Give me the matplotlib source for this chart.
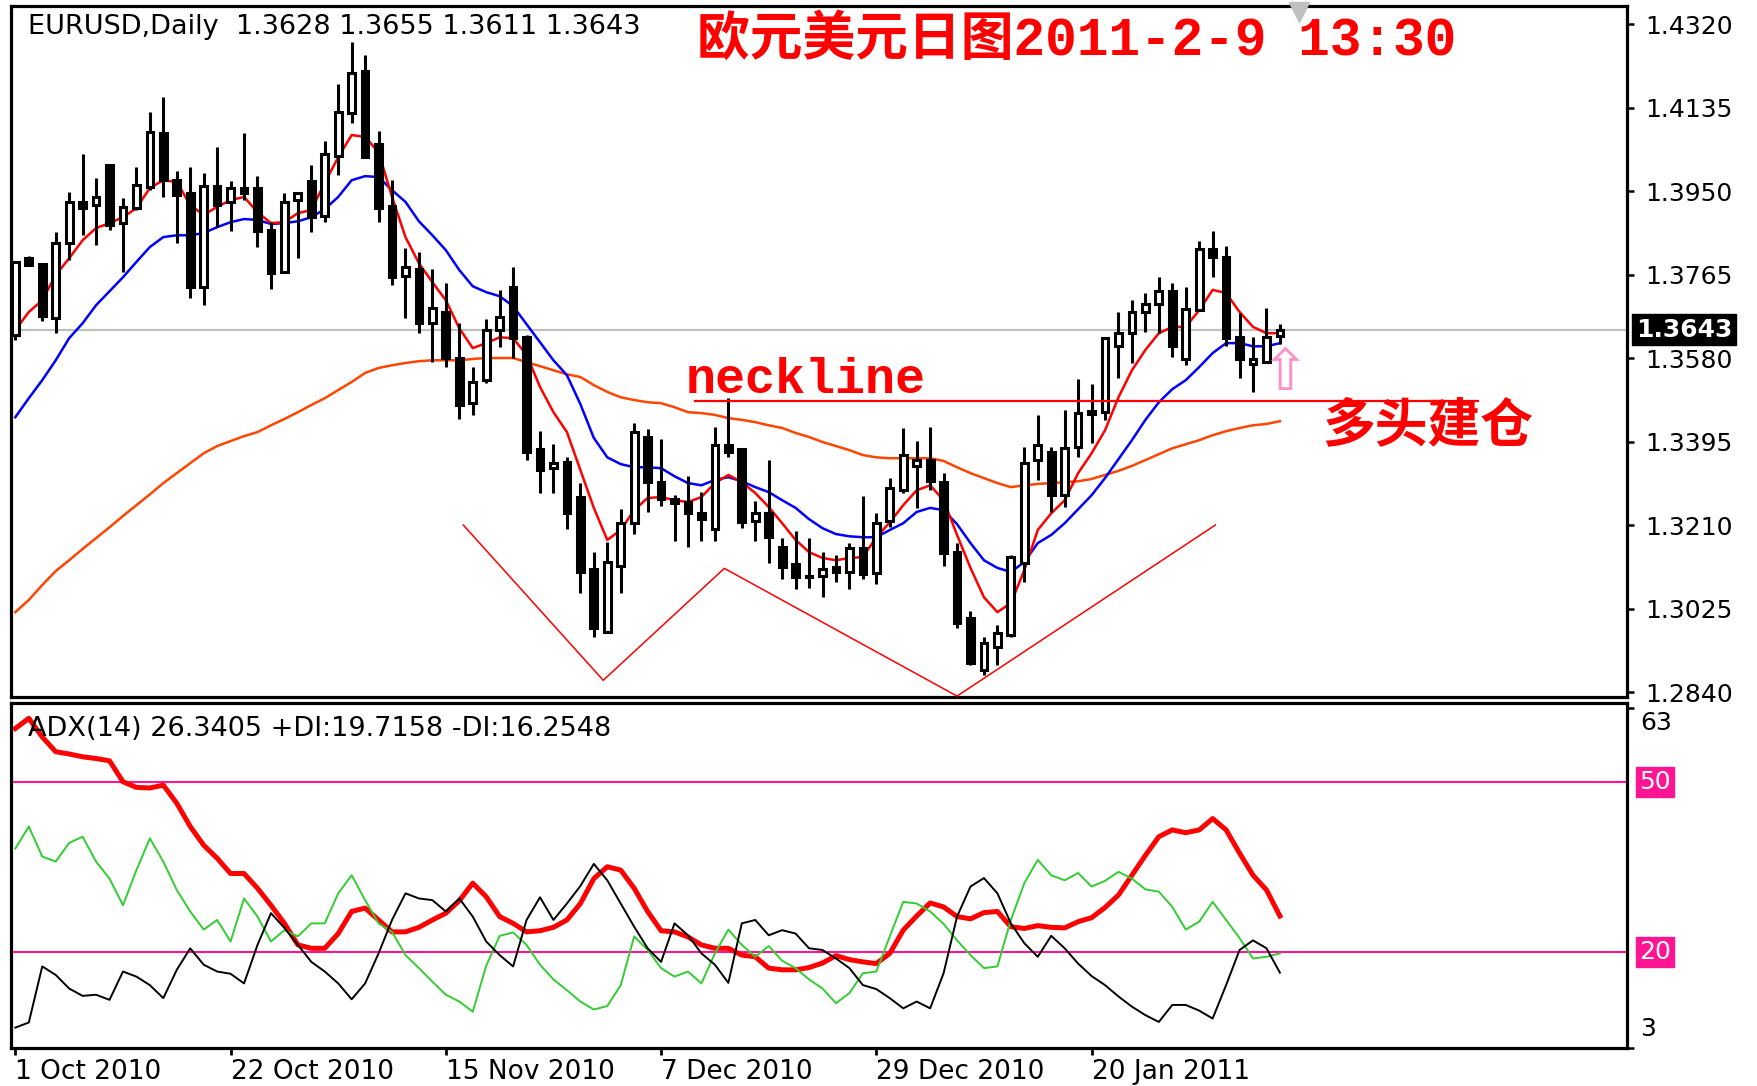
import matplotlib
matplotlib.use('Agg')
import matplotlib.pyplot as plt
import matplotlib.transforms as mtrans
import numpy as np

# ---------------- data ----------------
opens = [1.3631,1.3801,1.3788,1.3668,1.3835,1.3925,1.3919,1.4007,1.3879,1.3912,
         1.3959,1.4078,1.3974,1.3945,1.3737,1.3961,1.3925,1.3956,1.3956,1.3863,
         1.3770,1.3930,1.3972,1.3894,1.4027,1.4123,1.4216,1.4054,1.3917,1.3761,
         1.3777,1.3657,1.3682,1.3580,1.3480,1.3531,1.3642,1.3737,1.3626,1.3378,
         1.3336,1.3349,1.3272,1.3112,1.2973,1.3119,1.3214,1.3405,1.3305,1.3267,
         1.3261,1.3236,1.3201,1.3387,1.3378,1.3218,1.3236,1.3161,1.3123,1.3097,
         1.3097,1.3117,1.3105,1.3159,1.3103,1.3218,1.3287,1.3340,1.3354,1.3305,
         1.3150,1.3004,1.2888,1.2940,1.2966,1.3125,1.3354,1.3371,1.3276,1.3382,
         1.3462,1.3460,1.3606,1.3635,1.3682,1.3699,1.3728,1.3578,1.3686,1.3821,
         1.3804,1.3626,1.3566,1.3571,1.3628]
highs = [1.3792,1.3806,1.3790,1.3859,1.3948,1.4032,1.3979,1.4010,1.3934,1.4003,
         1.4125,1.4158,1.3994,1.4003,1.3990,1.4047,1.3972,1.4078,1.3983,1.3881,
         1.3945,1.3948,1.4007,1.4061,1.4187,1.4280,1.4251,1.4083,1.3974,1.3823,
         1.3815,1.3777,1.3746,1.3657,1.3560,1.3666,1.3730,1.3781,1.3630,1.3418,
         1.3389,1.3360,1.3303,1.3150,1.3172,1.3245,1.3436,1.3422,1.3400,1.3276,
         1.3318,1.3283,1.3427,1.3491,1.3380,1.3263,1.3354,1.3181,1.3196,1.3181,
         1.3150,1.3143,1.3170,1.3274,1.3236,1.3314,1.3425,1.3396,1.3427,1.3325,
         1.3170,1.3019,1.2961,1.2988,1.3143,1.3382,1.3453,1.3382,1.3464,1.3533,
         1.3522,1.3626,1.3682,1.3708,1.3724,1.3759,1.3746,1.3737,1.3839,1.3861,
         1.3828,1.3680,1.3626,1.3691,1.3655]
lows = [1.3620,1.3784,1.3662,1.3635,1.3797,1.3852,1.3830,1.3863,1.3770,1.3908,
        1.3952,1.3936,1.3835,1.3713,1.3697,1.3870,1.3861,1.3930,1.3826,1.3733,
        1.3768,1.3801,1.3859,1.3881,1.3985,1.4100,1.4023,1.3881,1.3741,1.3668,
        1.3635,1.3571,1.3560,1.3445,1.3453,1.3524,1.3604,1.3580,1.3354,1.3281,
        1.3281,1.3201,1.3059,1.2961,1.2970,1.3059,1.3190,1.3238,1.3252,1.3174,
        1.3161,1.3174,1.3174,1.3360,1.3203,1.3174,1.3125,1.3090,1.3068,1.3070,
        1.3050,1.3084,1.3068,1.3090,1.3079,1.3205,1.3281,1.3247,1.3287,1.3119,
        1.2981,1.2899,1.2877,1.2899,1.2962,1.3084,1.3309,1.3238,1.3250,1.3360,
        1.3391,1.3442,1.3535,1.3569,1.3637,1.3635,1.3582,1.3564,1.3686,1.3759,
        1.3606,1.3535,1.3504,1.3571,1.3611]
closes = [1.3792,1.3786,1.3673,1.3835,1.3925,1.3912,1.3936,1.3874,1.3914,1.3963,
          1.4080,1.3974,1.3941,1.3737,1.3961,1.3919,1.3956,1.3945,1.3861,1.3768,
          1.3925,1.3945,1.3892,1.4032,1.4125,1.4211,1.4025,1.3912,1.3759,1.3781,
          1.3657,1.3690,1.3580,1.3476,1.3526,1.3642,1.3671,1.3624,1.3371,1.3332,
          1.3347,1.3236,1.3105,1.2981,1.3128,1.3214,1.3416,1.3305,1.3267,1.3258,
          1.3236,1.3223,1.3387,1.3371,1.3216,1.3236,1.3183,1.3117,1.3094,1.3094,
          1.3112,1.3105,1.3159,1.3101,1.3214,1.3292,1.3365,1.3354,1.3307,1.3148,
          1.2994,1.2904,1.2948,1.2971,1.3139,1.3347,1.3387,1.3276,1.3380,1.3458,
          1.3456,1.3624,1.3635,1.3682,1.3699,1.3728,1.3606,1.3688,1.3821,1.3804,
          1.3624,1.3578,1.3578,1.3626,1.3643]

ma_fast = [1.3642,1.3682,1.3708,1.3764,1.3801,1.3841,1.3868,1.3879,1.3892,1.3912,
           1.3957,1.3974,1.3970,1.3919,1.3897,1.3915,1.3930,1.3937,1.3903,1.3879,
           1.3881,1.3901,1.3908,1.3968,1.4025,1.4074,1.4070,1.4036,1.3937,1.3848,
           1.3790,1.3748,1.3708,1.3646,1.3602,1.3613,1.3626,1.3624,1.3587,1.3516,
           1.3460,1.3416,1.3332,1.3248,1.3177,1.3199,1.3243,1.3270,1.3272,1.3265,
           1.3261,1.3272,1.3303,1.3321,1.3305,1.3281,1.3250,1.3214,1.3177,1.3150,
           1.3137,1.3132,1.3137,1.3139,1.3183,1.3216,1.3254,1.3287,1.3298,1.3265,
           1.3188,1.3115,1.3050,1.3017,1.3037,1.3110,1.3199,1.3236,1.3265,1.3325,
           1.3369,1.3420,1.3493,1.3553,1.3598,1.3635,1.3649,1.3649,1.3686,1.3731,
           1.3724,1.3682,1.3649,1.3635,1.3635]
ma_mid = [1.3449,1.3491,1.3531,1.3575,1.3624,1.3657,1.3697,1.3728,1.3759,1.3793,
          1.3826,1.3848,1.3852,1.3852,1.3857,1.3870,1.3881,1.3888,1.3886,1.3877,
          1.3879,1.3883,1.3892,1.3910,1.3937,1.3974,1.3983,1.3981,1.3952,1.3926,
          1.3883,1.3852,1.3819,1.3775,1.3739,1.3726,1.3717,1.3695,1.3655,1.3615,
          1.3575,1.3542,1.3478,1.3403,1.3360,1.3345,1.3338,1.3338,1.3336,1.3318,
          1.3303,1.3298,1.3310,1.3316,1.3307,1.3294,1.3283,1.3265,1.3248,1.3223,
          1.3203,1.3190,1.3185,1.3183,1.3183,1.3199,1.3214,1.3239,1.3248,1.3243,
          1.3212,1.3170,1.3132,1.3115,1.3106,1.3128,1.3170,1.3188,1.3214,1.3245,
          1.3276,1.3314,1.3356,1.3398,1.3443,1.3482,1.3511,1.3531,1.3560,1.3591,
          1.3613,1.3613,1.3606,1.3606,1.3613]
ma_slow = [1.3017,1.3044,1.3077,1.3108,1.3132,1.3157,1.3181,1.3205,1.3230,1.3254,
           1.3278,1.3303,1.3325,1.3347,1.3369,1.3385,1.3396,1.3407,1.3416,1.3431,
           1.3445,1.3460,1.3476,1.3491,1.3509,1.3527,1.3547,1.3558,1.3564,1.3569,
           1.3573,1.3575,1.3575,1.3575,1.3578,1.3580,1.3580,1.3580,1.3571,1.3562,
           1.3553,1.3544,1.3538,1.3520,1.3505,1.3493,1.3487,1.3482,1.3480,1.3471,
           1.3460,1.3458,1.3454,1.3447,1.3443,1.3438,1.3431,1.3425,1.3414,1.3405,
           1.3394,1.3385,1.3376,1.3365,1.3360,1.3358,1.3358,1.3358,1.3358,1.3352,
           1.3338,1.3325,1.3314,1.3303,1.3294,1.3298,1.3301,1.3303,1.3305,1.3307,
           1.3312,1.3321,1.3330,1.3341,1.3354,1.3367,1.3380,1.3389,1.3398,1.3409,
           1.3418,1.3425,1.3431,1.3434,1.3440]

adx = [59.4,61.2,57.9,55.3,54.9,54.4,54.1,53.7,50.0,49.0,
       48.9,49.4,46.2,42.1,38.8,36.5,33.8,33.8,31.2,28.2,
       25.0,21.2,20.6,20.6,23.2,27.1,27.7,25.6,23.5,23.5,
       24.3,25.6,26.8,29.0,32.1,29.7,26.2,25.0,23.5,23.7,
       24.3,25.6,28.5,32.9,35.0,34.4,31.2,27.1,23.7,23.5,
       22.6,21.2,20.6,20.6,19.4,19.1,17.1,16.8,16.8,17.2,
       18.0,19.3,18.6,18.2,17.9,19.7,23.8,26.3,28.6,27.9,
       26.2,25.8,26.9,27.1,24.4,24.1,24.6,24.3,24.2,25.3,
       26.0,27.8,30.0,33.5,37.0,40.3,41.5,41.0,41.5,43.5,
       41.5,37.4,33.5,30.9,26.3]
plus_di = [38.2,42.1,36.8,35.9,39.2,40.3,35.9,32.9,28.2,34.4,
           40.0,35.9,30.9,27.1,23.9,25.6,21.8,29.4,26.2,21.8,
           23.8,22.7,25.0,25.0,30.3,33.5,29.1,25.0,23.5,19.4,
           17.1,14.7,12.4,11.2,9.4,17.5,22.8,23.4,21.2,17.7,
           15.1,13.2,11.2,9.8,10.4,14.1,22.7,20.3,17.1,15.6,
           16.5,14.4,19.7,23.9,21.2,19.1,21.0,18.4,17.1,15.1,
           13.5,10.9,12.7,16.2,16.5,22.7,28.8,28.5,27.1,24.9,
           22.0,19.4,17.1,17.4,25.6,32.1,36.2,33.5,32.6,33.9,
           31.5,32.5,34.1,32.9,31.0,30.6,27.9,23.9,25.3,28.8,
           25.6,22.4,18.8,19.1,19.7]
minus_di = [6.6,7.5,17.4,15.9,13.5,12.2,12.4,11.5,16.5,15.6,
            14.1,11.8,16.8,20.6,17.7,16.5,16.1,14.4,21.2,26.8,
            24.2,21.2,18.2,16.5,14.4,11.6,14.4,19.7,25.6,30.3,
            29.4,29.1,27.1,29.4,26.2,21.8,19.4,17.4,25.6,29.6,
            25.6,28.5,31.6,35.5,32.6,28.5,24.4,20.6,18.2,25.0,
            22.9,19.7,17.7,14.5,25.0,25.6,22.9,23.8,23.2,20.6,
            20.3,18.8,17.1,14.1,13.4,11.8,10.0,11.2,10.0,16.2,
            26.2,31.5,33.0,30.3,25.0,21.5,19.1,22.8,20.6,17.9,
            15.7,14.1,12.1,10.3,8.8,7.6,10.6,10.6,9.6,8.2,
            14.1,20.3,22.0,20.6,16.3]

# drawn objects (pattern trendlines, neckline)
pattern_bar = [33.3, 43.7, 52.7, 70.0, 89.2]
pattern_price = [1.3210, 1.2866, 1.3114, 1.2831, 1.3210]
neck_bar = [50.5, 108.7]
neck_price = 1.3485

price_ticks = [1.2840, 1.3025, 1.3210, 1.3395, 1.3580, 1.3765, 1.3950, 1.4135, 1.4320]
date_pos = [0, 16, 32, 48, 64, 80]
date_labels = ['1 Oct 2010', '22 Oct 2010', '15 Nov 2010', '7 Dec 2010',
               '29 Dec 2010', '20 Jan 2011']
adx_levels = [50, 20]

# ---------------- figure ----------------
W, H = 1757, 1086
fig = plt.figure(figsize=(W / 100, H / 100), dpi=100)
fig.patch.set_facecolor('white')
L, R = 10.5, 1627


def box(top, bottom):
    return [L / W, 1 - bottom / H, (R - L) / W, (bottom - top) / H]


ax = fig.add_axes(box(6, 697))
ax2 = fig.add_axes(box(703, 1048))

n = len(closes)
x = np.arange(n)
o = np.array(opens)
c = np.array(closes)

for a in (ax, ax2):
    a.set_xlim(-0.36, 119.8)
    for s in a.spines.values():
        s.set_linewidth(2.3)
        s.set_color('black')
ax.set_ylim(1.2829, 1.4360)
ax2.set_ylim(3, 63.9)

# current price line
ax.axhline(closes[-1], color='#c0c0c0', lw=1.6, zorder=1)

# moving averages
ax.plot(x, ma_slow, color='#ff4500', lw=1.8, zorder=2)
ax.plot(x, ma_mid, color='#0000ff', lw=1.8, zorder=2)
ax.plot(x, ma_fast, color='#ff0000', lw=1.8, zorder=2)

# candles
ax.vlines(x, lows, highs, color='black', lw=2.2, zorder=3)
face = ['white' if cc >= oo else 'black' for oo, cc in zip(o, c)]
ax.bar(x, np.abs(c - o), bottom=np.minimum(o, c), width=0.5, color=face,
       edgecolor='black', linewidth=2.2, zorder=4)

# pattern lines
ax.plot(pattern_bar, pattern_price, color='#ff0000', lw=1.1, zorder=5)
ax.plot(neck_bar, [neck_price, neck_price], color='#ff0000', lw=1.6, zorder=5)

# chart-shift marker at the top edge
ax.plot([(1299 - L) / (R - L)], [0.991], marker='v', markersize=15,
        color='#c0c0c0', transform=ax.transAxes, clip_on=False, zorder=6)

# price axis
ax.yaxis.tick_right()
ax.set_yticks(price_ticks)
ax.set_yticklabels([f'{v:.4f}' for v in price_ticks])
ax.tick_params(axis='y', direction='out', length=5, width=1.8, pad=8,
               labelsize=18, colors='black')
ax.tick_params(axis='x', bottom=False, labelbottom=False)

trans = mtrans.blended_transform_factory(ax.transAxes, ax.transData)
ax.text(1.0055, closes[-1], f'{closes[-1]:.4f}', transform=trans, color='white',
        fontsize=18, fontweight='bold', va='center', ha='left', zorder=10,
        bbox=dict(boxstyle='square,pad=0.15', fc='black', ec='black'))

# ---------------- ADX panel ----------------
for lv in adx_levels:
    ax2.axhline(lv, color='#ff1493', lw=1.5, zorder=1)
ax2.plot(x, adx, color='#ff0000', lw=3.6, zorder=2)
ax2.plot(x, plus_di, color='#32cd32', lw=1.4, zorder=3)
ax2.plot(x, minus_di, color='black', lw=1.4, zorder=4)

ax2.yaxis.tick_right()
ax2.set_yticks([3, 63])
ax2.set_yticklabels([])
ax2.tick_params(axis='y', direction='out', length=5, width=1.8)
t2 = mtrans.blended_transform_factory(ax2.transAxes, ax2.transData)
ax2.text(1.008, 60.4, '63', transform=t2, fontsize=18, va='center', ha='left')
ax2.text(1.008, 6.3, '3', transform=t2, fontsize=18, va='center', ha='left')
for lv in adx_levels:
    ax2.text(1.0075, lv, f'{lv}', transform=t2, fontsize=18, color='white',
             va='center', ha='left',
             bbox=dict(boxstyle='square,pad=0.12', fc='#ff1493', ec='#ff1493'))

ax2.set_xticks(date_pos)
ax2.set_xticklabels(date_labels, ha='left')
ax2.tick_params(axis='x', direction='out', length=5, width=2, pad=3,
                labelsize=19)

# ---------------- texts ----------------
fig.text(28 / W, 1 - 27 / H, 'EURUSD,Daily  1.3628 1.3655 1.3611 1.3643',
         fontsize=19.5, va='center', ha='left', color='black')
fig.text(28 / W, 1 - 729 / H, 'ADX(14) 26.3405 +DI:19.7158 -DI:16.2548',
         fontsize=19.5, va='center', ha='left', color='black')
fig.text(697 / W, 1 - 41 / H, '欧元美元日图2011-2-9 13:30',
         family=['Liberation Mono', 'Noto Sans CJK SC'], fontweight='bold',
         fontsize=38, color='#ff0000', va='center', ha='left')
fig.text(686 / W, 1 - 393 / H, 'neckline', family=['Liberation Mono'],
         fontweight='bold', fontsize=36, color='#ff0000', va='baseline', ha='left')
fig.text(1322 / W, 1 - 426 / H, '多头建仓', family=['Noto Sans CJK SC'],
         fontweight='bold', fontsize=38, color='#ff0000', va='center', ha='left')
fig.text(1284 / W, 1 - 373 / H, '⇧', family=['DejaVu Sans'], fontsize=42,
         color='#ff8fc8', va='center', ha='center')

fig.savefig('out.png', dpi=100, facecolor='white')
